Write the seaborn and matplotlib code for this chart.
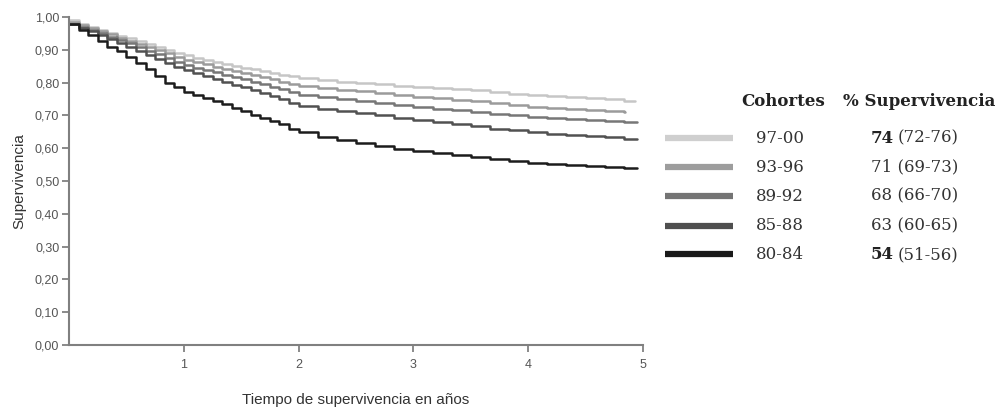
import numpy as np
import pandas as pd
import matplotlib
matplotlib.use("Agg")
import matplotlib.pyplot as plt
from matplotlib.lines import Line2D
import seaborn as sns

# ---- data ----
cohorts = ["97-00", "93-96", "89-92", "85-88", "80-84"]
# monthly steps for the first two years, every two months afterwards
times = [0, 1/12, 2/12, 3/12, 4/12, 5/12, 6/12, 7/12, 8/12, 9/12, 10/12, 11/12,
         1, 13/12, 14/12, 15/12, 16/12, 17/12, 18/12, 19/12, 20/12, 21/12, 22/12, 23/12,
         2, 13/6, 14/6, 15/6, 16/6, 17/6, 3, 19/6, 20/6, 21/6, 22/6, 23/6,
         4, 25/6, 26/6, 27/6, 28/6, 29/6]
end_times = [4.93, 4.84, 4.95, 4.95, 4.95]

surv_97_00 = [0.99, 0.98, 0.97, 0.961, 0.952, 0.943, 0.935, 0.926, 0.918, 0.909, 0.900, 0.891,
              0.883, 0.876, 0.870, 0.863, 0.857, 0.851, 0.846, 0.840, 0.835, 0.829, 0.824, 0.819,
              0.814, 0.808, 0.803, 0.799, 0.795, 0.791, 0.788, 0.784, 0.780, 0.776, 0.772, 0.766,
              0.761, 0.758, 0.755, 0.752, 0.749, 0.745]
surv_93_96 = [0.985, 0.975, 0.966, 0.956, 0.947, 0.937, 0.928, 0.918, 0.908, 0.898, 0.889, 0.879,
              0.870, 0.863, 0.856, 0.849, 0.842, 0.836, 0.830, 0.823, 0.816, 0.810, 0.803, 0.797,
              0.790, 0.784, 0.778, 0.773, 0.768, 0.762, 0.757, 0.752, 0.748, 0.743, 0.738, 0.732,
              0.727, 0.724, 0.720, 0.717, 0.713, 0.710]
surv_89_92 = [0.98, 0.97, 0.96, 0.95, 0.94, 0.93, 0.92, 0.908, 0.897, 0.886, 0.875, 0.864,
              0.853, 0.845, 0.838, 0.831, 0.824, 0.817, 0.810, 0.802, 0.795, 0.788, 0.780, 0.771,
              0.762, 0.755, 0.749, 0.743, 0.737, 0.731, 0.726, 0.720, 0.715, 0.710, 0.705, 0.700,
              0.695, 0.692, 0.689, 0.686, 0.683, 0.680]
surv_85_88 = [0.98, 0.968, 0.956, 0.944, 0.933, 0.921, 0.910, 0.897, 0.885, 0.872, 0.860, 0.849,
              0.838, 0.829, 0.820, 0.811, 0.803, 0.794, 0.786, 0.777, 0.768, 0.759, 0.750, 0.739,
              0.728, 0.719, 0.712, 0.706, 0.700, 0.693, 0.687, 0.680, 0.673, 0.667, 0.660, 0.654,
              0.648, 0.644, 0.641, 0.637, 0.633, 0.629]
surv_80_84 = [0.98, 0.961, 0.945, 0.927, 0.910, 0.895, 0.879, 0.860, 0.840, 0.820, 0.800, 0.786,
              0.772, 0.762, 0.752, 0.743, 0.734, 0.723, 0.712, 0.702, 0.693, 0.683, 0.673, 0.660,
              0.648, 0.635, 0.625, 0.615, 0.606, 0.598, 0.591, 0.585, 0.578, 0.572, 0.567, 0.561,
              0.556, 0.553, 0.550, 0.547, 0.544, 0.540]
survival = [surv_97_00, surv_93_96, surv_89_92, surv_85_88, surv_80_84]

pct_main = ["74", "71", "68", "63", "54"]
pct_ci = ["(72-76)", "(69-73)", "(66-70)", "(60-65)", "(51-56)"]
pct_bold = [True, False, False, False, True]

y_ticks = [0.0, 0.1, 0.2, 0.3, 0.4, 0.5, 0.6, 0.7, 0.8, 0.9, 1.0]
x_ticks = [1, 2, 3, 4, 5]

colors = ["#c6c6c6", "#9b9b9b", "#777777", "#515151", "#1c1c1c"]
swatch_colors = ["#cfcfcf", "#9d9d9d", "#747474", "#4f4f4f", "#1a1a1a"]

# ---- build long table ----
rows = []
for c, s, te in zip(cohorts, survival, end_times):
    for t, v in zip(times, s):
        rows.append((c, t, v))
    rows.append((c, te, s[-1]))
df = pd.DataFrame(rows, columns=["cohorte", "tiempo", "surv"])

sns.set_theme(style="white")
plt.rcParams["font.family"] = ["Liberation Sans", "DejaVu Sans"]

fig = plt.figure(figsize=(10, 4.11), dpi=100)
ax = fig.add_axes([0.069, 0.1606, 0.574, 0.798])

sns.lineplot(data=df, x="tiempo", y="surv", hue="cohorte", hue_order=cohorts,
             palette=dict(zip(cohorts, colors)), estimator=None, legend=False,
             drawstyle="steps-post", linewidth=1.8, ax=ax)

ax.set_xlim(0, 5)
ax.set_ylim(0, 1)
ax.set_yticks(y_ticks)
ax.set_yticklabels([f"{v:.2f}".replace(".", ",") for v in y_ticks])
ax.set_xticks(x_ticks)
ax.set_xticklabels([str(v) for v in x_ticks])
ax.tick_params(axis="both", which="major", direction="out", length=5, width=1.2,
               color="#777777", labelcolor="#555555", labelsize=9, pad=2,
               bottom=True, left=True)
ax.tick_params(axis="x", pad=5)
for side in ["top", "right"]:
    ax.spines[side].set_visible(False)
for side in ["left", "bottom"]:
    ax.spines[side].set_color("#808080")
    ax.spines[side].set_linewidth(1.5)
ax.set_xlabel("Tiempo de supervivencia en años", fontsize=11, color="#333333", labelpad=16)
ax.set_ylabel("Supervivencia", fontsize=11, color="#333333", labelpad=6)

# ---- custom legend table ----
W, H = 1000.0, 411.0
serif = ["DejaVu Serif"]
fs = 12
fig.text(741 / W, 1 - 101 / H, "Cohortes", fontsize=fs, fontweight="bold",
         family=serif, color="#222222", va="center", ha="left")
fig.text(843 / W, 1 - 101 / H, "% Supervivencia", fontsize=fs, fontweight="bold",
         family=serif, color="#222222", va="center", ha="left")
row_y = [138, 167, 196, 225.5, 254.5]
for i, (c, ry) in enumerate(zip(cohorts, row_y)):
    fy = 1 - ry / H
    fig.add_artist(Line2D([665 / W, 733 / W], [fy, fy], color=swatch_colors[i],
                          linewidth=4.5, solid_capstyle="butt", transform=fig.transFigure))
    fig.text(756 / W, fy, c, fontsize=fs, family=serif, color="#333333",
             va="center", ha="left")
    if pct_bold[i]:
        fig.text(871 / W, fy, pct_main[i], fontsize=fs, family=serif, fontweight="bold",
                 color="#222222", va="center", ha="left")
        fig.text(898 / W, fy, pct_ci[i], fontsize=fs, family=serif,
                 color="#333333", va="center", ha="left")
    else:
        fig.text(871 / W, fy, pct_main[i] + " " + pct_ci[i], fontsize=fs, family=serif,
                 color="#333333", va="center", ha="left")

fig.savefig("out.png", dpi=100, facecolor="white")
